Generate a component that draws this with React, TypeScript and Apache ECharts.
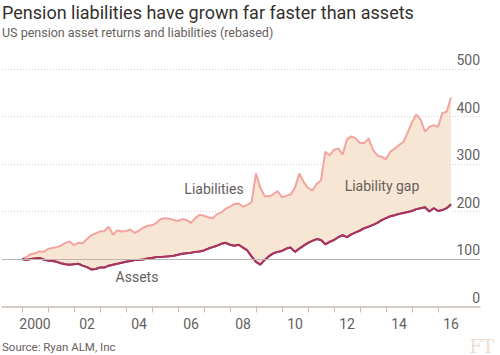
import React, { useEffect, useRef } from "react";
import * as echarts from "echarts";

// time axis: one point every two months from 2000.0
const START_YEAR = 2000;
const STEP = 1 / 6;

const liabilities = [
  100, 104, 110, 112, 116, 115, 121, 123, 125, 128, 134, 137, 129, 134, 133, 142, 150, 154, 158, 159,
  168, 151, 160, 158, 159, 162, 155, 160, 166, 170, 171, 176, 184, 186, 185, 182, 180, 184, 182, 176,
  186, 193, 191, 188, 186, 194, 198, 206, 210, 216, 217, 210, 214, 220, 280, 250, 232, 232, 236, 243,
  230, 233, 236, 250, 280, 262, 250, 244, 258, 266, 326, 318, 330, 333, 320, 352, 358, 354, 344, 344,
  354, 330, 318, 315, 310, 326, 332, 340, 346, 366, 388, 404, 393, 368, 378, 382, 378, 407, 410, 440,
];

const assets = [
  100, 98, 100, 101, 102, 99, 97, 96, 94, 91, 89, 88, 89, 90, 86, 83, 78, 79, 82, 82,
  86, 88, 90, 92, 94, 96, 98, 98, 99, 101, 102, 104, 104, 105, 106, 107, 109, 111, 112, 113,
  115, 116, 118, 122, 125, 128, 132, 134, 130, 128, 130, 124, 118, 105, 94, 88, 98, 106, 112, 115,
  117, 122, 124, 115, 122, 128, 134, 138, 142, 140, 131, 136, 140, 146, 150, 146, 152, 156, 160, 165,
  168, 172, 176, 182, 186, 190, 192, 195, 197, 199, 201, 205, 207, 209, 200, 207, 201, 203, 207, 215,
];

const yTicks = [0, 100, 200, 300, 400, 500];
const yearTicks = [2000, 2001, 2002, 2003, 2004, 2005, 2006, 2007, 2008, 2009, 2010, 2011, 2012, 2013, 2014, 2015, 2016];
const yearLabels = [2000, 2002, 2004, 2006, 2008, 2010, 2012, 2014, 2016];

const TITLE = "Pension liabilities have grown far faster than assets";
const SUBTITLE = "US pension asset returns and liabilities (rebased)";
const SOURCE = "Source: Ryan ALM, Inc";

const FONT = "Roboto, 'Noto Sans', sans-serif";
const GREY = "#66605c";
const AXIS = "#c8bfb6";

export default function App() {
  const ref = useRef<HTMLDivElement>(null);

  useEffect(() => {
    if (!ref.current) return;
    const chart = echarts.init(ref.current, undefined, { renderer: "svg" });
    const xs = liabilities.map((_, i) => START_YEAR + i * STEP);
    const asset = assets.map((v, i) => [xs[i], v]);
    const liab = liabilities.map((v, i) => [xs[i], v]);

    const label = (text: string, x: number, y: number) => ({
      type: "text",
      x,
      y,
      z: 100,
      style: { text, fontSize: 14, fill: GREY, fontFamily: FONT, align: "center", verticalAlign: "middle" },
    });

    chart.setOption({
      animation: false,
      backgroundColor: "#ffffff",
      textStyle: { fontFamily: FONT },
      grid: { left: 2, right: 20, top: 69, bottom: 48.5, containLabel: false },
      xAxis: {
        type: "value",
        z: 10,
        min: 2000 - 20 / 26,
        max: 2000 + 458 / 26,
        axisLine: { show: true, lineStyle: { color: AXIS, width: 1.5 } },
        axisTick: {
          show: true,
          length: 6,
          lineStyle: { color: AXIS, width: 1 },
          customValues: yearTicks,
        },
        axisLabel: {
          customValues: yearLabels.map((y) => y + 0.5),
          formatter: (v: number) => {
            const y = Math.floor(v);
            return y === 2000 ? "2000" : String(y % 100).padStart(2, "0");
          },
          color: GREY,
          fontSize: 14,
          margin: 10,
          fontFamily: FONT,
        },
        splitLine: { show: false },
      },
      yAxis: {
        type: "value",
        position: "right",
        min: yTicks[0],
        max: yTicks[yTicks.length - 1],
        interval: 100,
        axisLine: { show: false },
        axisTick: { show: false },
        axisLabel: {
          inside: true,
          margin: 0,
          color: GREY,
          fontSize: 14,
          verticalAlign: "bottom",
          padding: [0, 0, 2, 0],
          fontFamily: FONT,
          formatter: (v: number) => String(v),
        },
        splitLine: { show: true, lineStyle: { color: "#d9d0c7", type: [1, 2], width: 1 } },
      },
      series: [
        {
          name: "Liabilities",
          type: "line",
          data: liab,
          symbol: "none",
          z: 2,
          lineStyle: { color: "#f3a3a0", width: 2 },
          areaStyle: { color: "#f7e6d4", opacity: 1 },
        },
        {
          name: "Assets",
          type: "line",
          data: asset,
          symbol: "none",
          z: 3,
          lineStyle: { color: "#a8355e", width: 2 },
          areaStyle: { color: "#ffffff", opacity: 1 },
          markLine: {
            silent: true,
            symbol: "none",
            label: { show: false },
            lineStyle: { color: "#bdb5ad", type: "solid", width: 1 },
            data: [{ yAxis: 100 }],
          },
        },
        {
          name: "AssetsLine",
          type: "line",
          data: asset,
          symbol: "none",
          z: 4,
          lineStyle: { color: "#a8355e", width: 2 },
        },
      ],
      graphic: [
        { type: "text", left: 2, top: 3, z: 100, style: { text: TITLE, fontSize: 18, fill: "#33302e", fontFamily: FONT } },
        { type: "text", left: 2, top: 26, z: 100, style: { text: SUBTITLE, fontSize: 12.5, fill: GREY, fontFamily: FONT } },
        { type: "text", left: 2, top: 341, z: 100, style: { text: SOURCE, fontSize: 11.5, fill: GREY, fontFamily: FONT } },
        { type: "text", right: 6, top: 337, z: 100, style: { text: "FT", fontSize: 18, fill: "#eadccf", fontFamily: "'DejaVu Serif', serif" } },
        label("Liabilities", 214, 189),
        label("Liability gap", 382, 186),
        label("Assets", 137, 277),
      ],
    });
    return () => chart.dispose();
  }, []);

  return <div ref={ref} style={{ width: 500, height: 355, position: "absolute", left: 0, top: 0 }} />;
}
